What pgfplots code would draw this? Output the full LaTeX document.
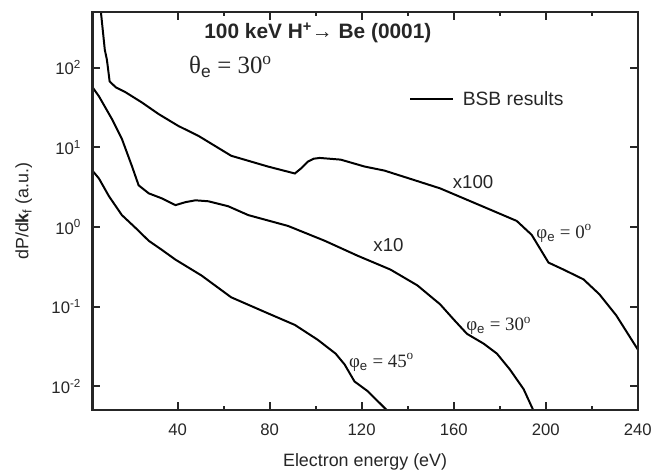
\documentclass[border=0pt]{standalone}
\usepackage{fontspec}
\setmainfont{Liberation Sans}
\newfontfamily\tms{Liberation Serif}
\usepackage{pgfplots}
\pgfplotsset{compat=1.18}
\usetikzlibrary{calc}

% curves (x: eV, y: a.u.)
\pgfplotstableread{
x y
6.7 500
8.4 167
9.3 126
10.5 67
13.2 56.5
17.5 48.9
24.4 36.7
31.8 26.1
40.4 18.5
49.1 13.9
63.3 7.83
79.3 5.73
91.0 4.69
93.6 5.41
96.6 6.6
99.2 7.19
101.8 7.35
110.9 7.0
121.3 5.73
129.9 5.1
143.3 3.84
154.1 3.05
174.4 1.72
187.4 1.19
193.9 0.796
197.3 0.548
201.2 0.357
207.7 0.292
216.4 0.22
223.3 0.143
230.6 0.078
240 0.029
}\phizero
\pgfplotstableread{
x y
3 57
5.85 43.6
11.5 22.6
15.8 12.8
20.1 5.89
23.1 3.33
27.5 2.64
33.1 2.29
39.1 1.88
43.5 2.05
47.8 2.16
53.4 2.10
62.0 1.82
70.7 1.41
88.0 1.03
104 0.67
118.2 0.436
132.5 0.292
144.2 0.185
154.1 0.107
160.2 0.068
165.8 0.0455
173.1 0.0342
178.8 0.0257
184.4 0.0163
190.4 0.0092
194.6 0.005
}\phithirty
\pgfplotstableread{
x y
3 5.1
5.85 4.06
10.2 2.43
15.8 1.41
21.8 0.97
27.5 0.67
33.1 0.518
39.1 0.389
50.4 0.246
63.3 0.131
78.0 0.0855
91.0 0.0589
100.9 0.0384
108.7 0.0257
112.6 0.0188
116.9 0.0115
122.6 0.0087
131.0 0.005
}\phifortyfive

\begin{document}
\begin{tikzpicture}
\begin{axis}[
  scale only axis, width=549bp, height=401bp,
  xmin=3, xmax=240, ymode=log, log basis y=10, ymin=0.005, ymax=500,
  clip=false, axis on top,
  axis line style={black!85, line width=2.4bp},
  tick align=inside, major tick length=8bp, minor tick length=4bp,
  tick style={black!85, line width=2bp},
  xtick={40,80,...,240}, minor x tick num=1,
  ytick={0.01,0.1,1,10,100},
  xticklabel={\pgfmathparse{int(round(\tick))}\pgfmathresult},
  yticklabel={10\textsuperscript{\pgfmathparse{int(round(\tick))}\pgfmathresult}},
  tick label style={font=\fontsize{16.8bp}{20bp}\selectfont, text=black!85},
  xticklabel style={yshift=-10bp},
  yticklabel style={xshift=-8bp},
  xlabel={Electron energy (eV)},
  ylabel={dP/d\textbf{k}\textsubscript{f} (a.u.)},
  every axis x label/.style={at={(rel axis cs:0.5,0)}, anchor=center, yshift=-52bp,
    font=\fontsize{18bp}{22bp}\selectfont, text=black!85},
  every axis y label/.style={at={(rel axis cs:0,0.5)}, xshift=-69bp, rotate=90, anchor=center,
    font=\fontsize{18bp}{22bp}\selectfont, text=black!85},
  legend style={draw=none, fill=none, at={(rel axis cs:0.575,0.781)}, anchor=west,
    font=\fontsize{19.4bp}{22bp}\selectfont, text=black!85},
  legend image code/.code={\draw[#1] (0bp,0bp) -- (43bp,0bp); \path (50bp,0bp);},
]
\addplot[black, no markers, line width=2bp] table {\phizero};
\addlegendentry{BSB results}
\addplot[black, no markers, line width=2bp, forget plot] table {\phithirty};
\addplot[black, no markers, line width=2bp, forget plot] table {\phifortyfive};

\node[font=\fontsize{21bp}{24bp}\selectfont\bfseries, text=black!85] at (rel axis cs:0.4135,0.9476) {100 keV H\textsuperscript{+}→ Be (0001)};
\node[font=\fontsize{25bp}{28bp}\selectfont\tms, text=black!85] at (rel axis cs:0.253,0.862) {θ\textsubscript{\fontspec{Liberation Sans}e} = 30\textsuperscript{o}};
\node[font=\fontsize{18.8bp}{22bp}\selectfont, text=black!85] at (rel axis cs:0.698,0.574) {x100};
\node[font=\fontsize{18.8bp}{22bp}\selectfont, text=black!85] at (rel axis cs:0.543,0.414) {x10};
\node[font=\fontsize{19bp}{22bp}\selectfont\tms, text=black!85] at (rel axis cs:0.865,0.444) {φ\textsubscript{\fontspec{Liberation Sans}e} = 0\textsuperscript{o}};
\node[font=\fontsize{19bp}{22bp}\selectfont\tms, text=black!85] at (rel axis cs:0.745,0.212) {φ\textsubscript{\fontspec{Liberation Sans}e} = 30\textsuperscript{o}};
\node[font=\fontsize{19bp}{22bp}\selectfont\tms, text=black!85] at (rel axis cs:0.530,0.120) {φ\textsubscript{\fontspec{Liberation Sans}e} = 45\textsuperscript{o}};
\end{axis}
\path ($(current axis.south west)+(-93bp,-59bp)$) rectangle ($(current axis.north east)+(13bp,12bp)$);
\end{tikzpicture}
\end{document}
